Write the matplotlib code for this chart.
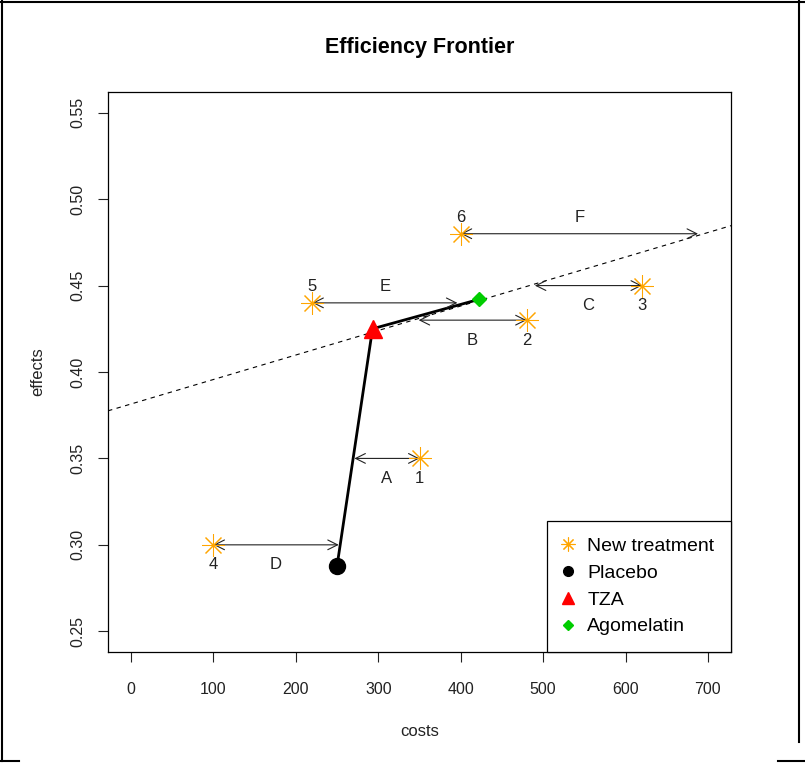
import matplotlib
matplotlib.use("Agg")
import matplotlib.pyplot as plt
from matplotlib.lines import Line2D

plt.rcParams["font.family"] = ["Liberation Sans", "DejaVu Sans"]

# new treatments 1..6 (costs, effects)
new_ids = ["1", "2", "3", "4", "5", "6"]
new_costs = [350, 480, 620, 100, 220, 400]
new_effects = [0.35, 0.43, 0.45, 0.30, 0.44, 0.48]

# efficiency frontier: Placebo -> TZA -> Agomelatin
frontier_names = ["Placebo", "TZA", "Agomelatin"]
frontier_costs = [250, 293, 422]
frontier_effects = [0.288, 0.425, 0.442]

# dashed extension of the last frontier segment
icer_intercept = 0.3815
icer_slope = 0.0001417

# distance arrows from each new treatment back to the frontier
arrow_labels = ["A", "B", "C", "D", "E", "F"]
arrow_end_costs = [271, 349, 490, 252, 396, 688]
label_above = [False, False, False, False, True, True]

fig = plt.figure(figsize=(8.05, 7.63), dpi=100)
ax = fig.add_axes([108 / 805, 1 - 652 / 763, 623 / 805, 560 / 763])

ax.set_xlim(-28, 728)
ax.set_ylim(0.238, 0.562)

# dashed line
ax.axline((0, icer_intercept), slope=icer_slope, color="black",
          lw=0.8, linestyle=(0, (4, 4)), zorder=1)

# frontier
ax.plot(frontier_costs, frontier_effects, color="black", lw=2, zorder=2)

# arrows + letters
for i in range(len(new_costs)):
    y = new_effects[i]
    ax.annotate("", xy=(arrow_end_costs[i], y), xytext=(new_costs[i], y),
                arrowprops=dict(arrowstyle="<->,head_length=0.7,head_width=0.35",
                                shrinkA=0, shrinkB=0, lw=0.8, color="#222222",
                                mutation_scale=10),
                zorder=3)
    mid = (arrow_end_costs[i] + new_costs[i]) / 2
    off = 12 if label_above[i] else -14.5
    ax.annotate(arrow_labels[i], (mid, y), xytext=(0, off), textcoords="offset points",
                ha="center", va="center", fontsize=12, color="#222222")
    ax.annotate(new_ids[i], (new_costs[i], y), xytext=(0, off), textcoords="offset points",
                ha="center", va="center", fontsize=12, color="#222222")

# points
ax.plot(new_costs, new_effects, linestyle="none", marker=(8, 2, 0), markersize=16,
        markeredgewidth=0.75, color="orange", zorder=4)
ax.plot(frontier_costs[0], frontier_effects[0], linestyle="none", marker="o",
        markersize=11.5, color="black", zorder=5)
ax.plot(frontier_costs[1], frontier_effects[1], linestyle="none", marker="^",
        markersize=13, color="red", zorder=5)
ax.plot(frontier_costs[2], frontier_effects[2], linestyle="none", marker="D",
        markersize=7.5, color="#00CD00", zorder=5)

ax.set_xticks([0, 100, 200, 300, 400, 500, 600, 700])
ax.set_yticks([0.25, 0.30, 0.35, 0.40, 0.45, 0.50, 0.55])
ax.set_yticklabels(["0.25", "0.30", "0.35", "0.40", "0.45", "0.50", "0.55"],
                   rotation=90, va="center")
ax.tick_params(axis="both", length=7.5, width=0.8, labelsize=11.5, colors="#222222")
ax.tick_params(axis="x", pad=14)
ax.tick_params(axis="y", pad=9)
for s in ax.spines.values():
    s.set_linewidth(0.9)

ax.text(0.5, 1 + 44 / 560, "Efficiency Frontier", transform=ax.transAxes,
        ha="center", va="center", fontsize=15.5, fontweight="bold")
ax.text(0.5, -79 / 560, "costs", transform=ax.transAxes,
        ha="center", va="center", fontsize=12, color="#222222")
ax.text(-70 / 623, 0.5, "effects", transform=ax.transAxes, rotation=90,
        ha="center", va="center", fontsize=12, color="#222222")

handles = [
    Line2D([], [], linestyle="none", marker=(8, 2, 0), markersize=10,
           markeredgewidth=0.8, color="orange"),
    Line2D([], [], linestyle="none", marker="o", markersize=7, color="black"),
    Line2D([], [], linestyle="none", marker="^", markersize=9, color="red"),
    Line2D([], [], linestyle="none", marker="D", markersize=5.5, color="#00CD00"),
]
leg = ax.legend(handles, ["New treatment"] + frontier_names, loc="lower right",
                borderaxespad=0, fontsize=14, fancybox=False, framealpha=1,
                edgecolor="black", handlelength=0.5, handletextpad=0.75,
                borderpad=0.85, labelspacing=0.48)
leg.get_frame().set_linewidth(0.9)

# outer frame of the screenshot
frame_lines = [
    ([2, 2], [0, 761]),
    ([0, 805], [2, 2]),
    ([799, 799], [0, 742]),
    ([0, 19], [761, 761]),
    ([778, 805], [761, 761]),
]
for xs, ys in frame_lines:
    fig.add_artist(Line2D([x / 805 for x in xs], [1 - y / 763 for y in ys],
                          color="black", lw=1.5))

fig.savefig("out.png", dpi=100)
